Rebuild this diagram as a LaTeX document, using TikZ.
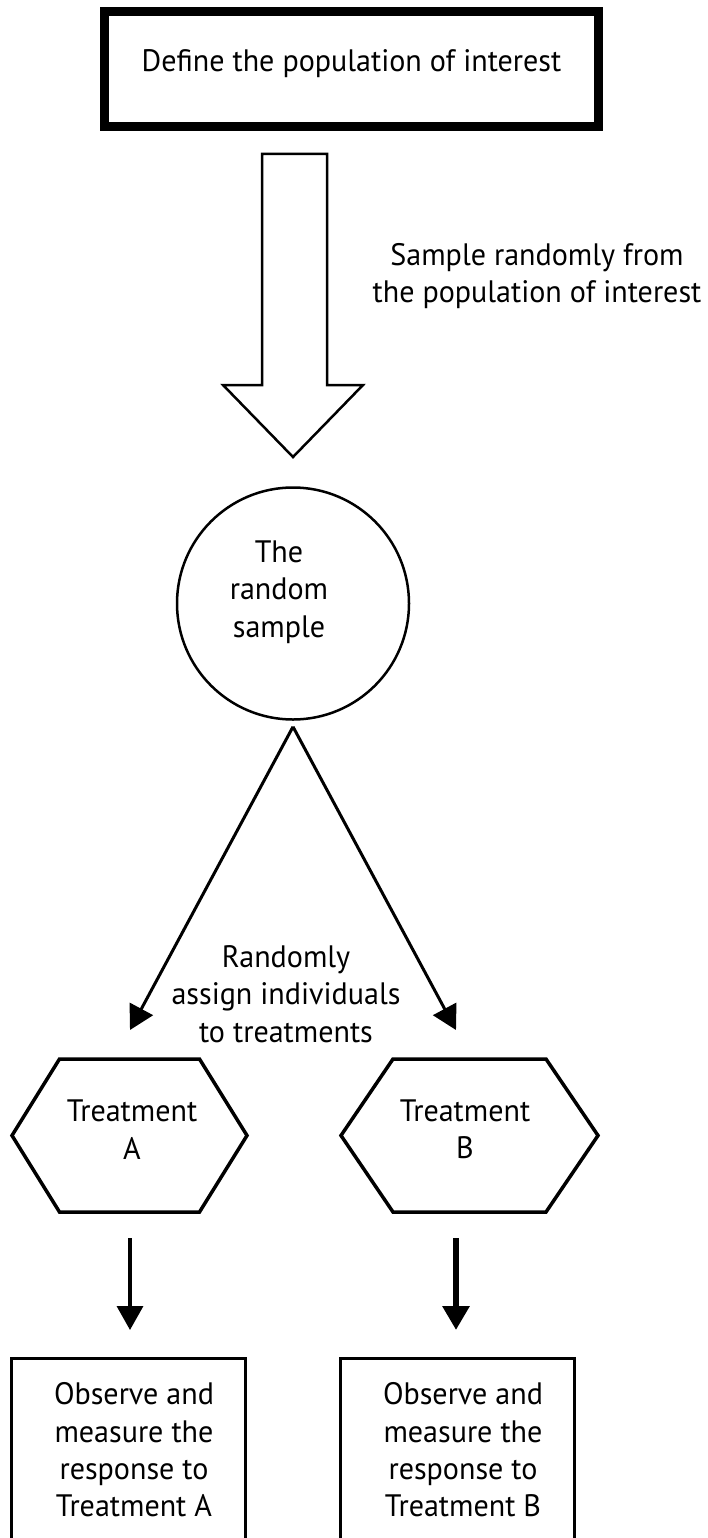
\documentclass[tikz,border=0pt]{standalone}
\usepackage{fontspec}
\setmainfont[FakeStretch=0.97]{PT Sans}
\usetikzlibrary{arrows.meta,calc}
\begin{document}
\begin{tikzpicture}[x=1pt,y=-1pt,
  txt/.style={font=\fontsize{31pt}{37.3pt}\selectfont, align=center, inner sep=0pt},
  thinbox/.style={draw, line width=3pt, rectangle, inner sep=0pt, minimum width=234pt, minimum height=186.5pt},
  hexnode/.style={rectangle, draw=none, inner sep=0pt, outer sep=0pt, minimum height=153pt},
  hexline/.style={line width=3.5pt, line join=miter},
  tri/.style={-{Triangle[length=24pt,width=26pt]}},
]
\useasboundingbox (0,0) rectangle (708,1538);
\clip (0,0) rectangle (708,1538);

% top box
\node[draw, line width=9pt, minimum width=494pt, minimum height=115pt, inner sep=0pt, txt,
      text height=22pt, text depth=16pt] (pop) at (351.5,69) {Define the population of interest};

% big hollow arrow
\draw[line width=2.5pt, line join=miter] (262,154) -- (327,154) -- (327,385) -- (363,385)
  -- (293,457) -- (223,385) -- (262,385) -- cycle;
\node[txt] (samplab) at (537,276) {Sample randomly from\\the population of interest};

% random sample circle
\node[draw, circle, line width=2.5pt, minimum size=232pt, inner sep=0pt] (samp) at (293,603.5) {};
\node[txt] (samptxt) at ($(samp.center)+(-14,-11.5)$) {The\\random\\sample};

% hexagons
\node[hexnode, minimum width=235pt] (hexA) at (129.5,1135.5) {};
\node[hexnode, minimum width=257pt] (hexB) at (469.5,1135.5) {};
\draw[hexline] (hexA.west) -- ($(hexA.north west)+(47.5,0)$) -- ($(hexA.north east)+(-47.5,0)$)
  -- (hexA.east) -- ($(hexA.south east)+(-47.5,0)$) -- ($(hexA.south west)+(47.5,0)$) -- cycle;
\draw[hexline] (hexB.west) -- ($(hexB.north west)+(52,0)$) -- ($(hexB.north east)+(-52,0)$)
  -- (hexB.east) -- ($(hexB.south east)+(-52,0)$) -- ($(hexB.south west)+(52,0)$) -- cycle;
\node[txt] (hexAtxt) at ($(hexA.center)+(2.5,-6)$) {Treatment\\A};
\node[txt] (hexBtxt) at ($(hexB.center)+(-4.5,-6)$) {Treatment\\B};

% diagonal arrows
\coordinate (apex) at ($(samp.south)+(0,6)$);
\coordinate (tipA) at ($(hexA.north)+(0.5,-29)$);
\coordinate (tipB) at ($(hexB.north)+(-13.5,-29)$);
\draw[line width=3pt, tri] (apex) -- (tipA);
\draw[line width=3pt, tri] (apex) -- (tipB);
\node[txt] (assign) at (286,994) {Randomly\\assign individuals\\to treatments};

% bottom boxes
\node[thinbox] (boxA) at (128.5,1451.75) {};
\node[thinbox] (boxB) at (457.5,1451.75) {};
\node[txt] (boxAtxt) at ($(boxA.center)+(5.5,-1.75)$) {Observe and\\measure the\\response to\\Treatment A};
\node[txt] (boxBtxt) at ($(boxB.center)+(5.5,-1.75)$) {Observe and\\measure the\\response to\\Treatment B};

% vertical arrows
\draw[line width=3.5pt, tri] ($(hexA.south)+(0.5,26)$) -- ($(boxA.north)+(1.5,-27)$);
\draw[line width=6pt, tri] ($(hexB.south)+(-13.5,26)$) -- ($(boxB.north)+(-1.5,-27)$);
\end{tikzpicture}
\end{document}
